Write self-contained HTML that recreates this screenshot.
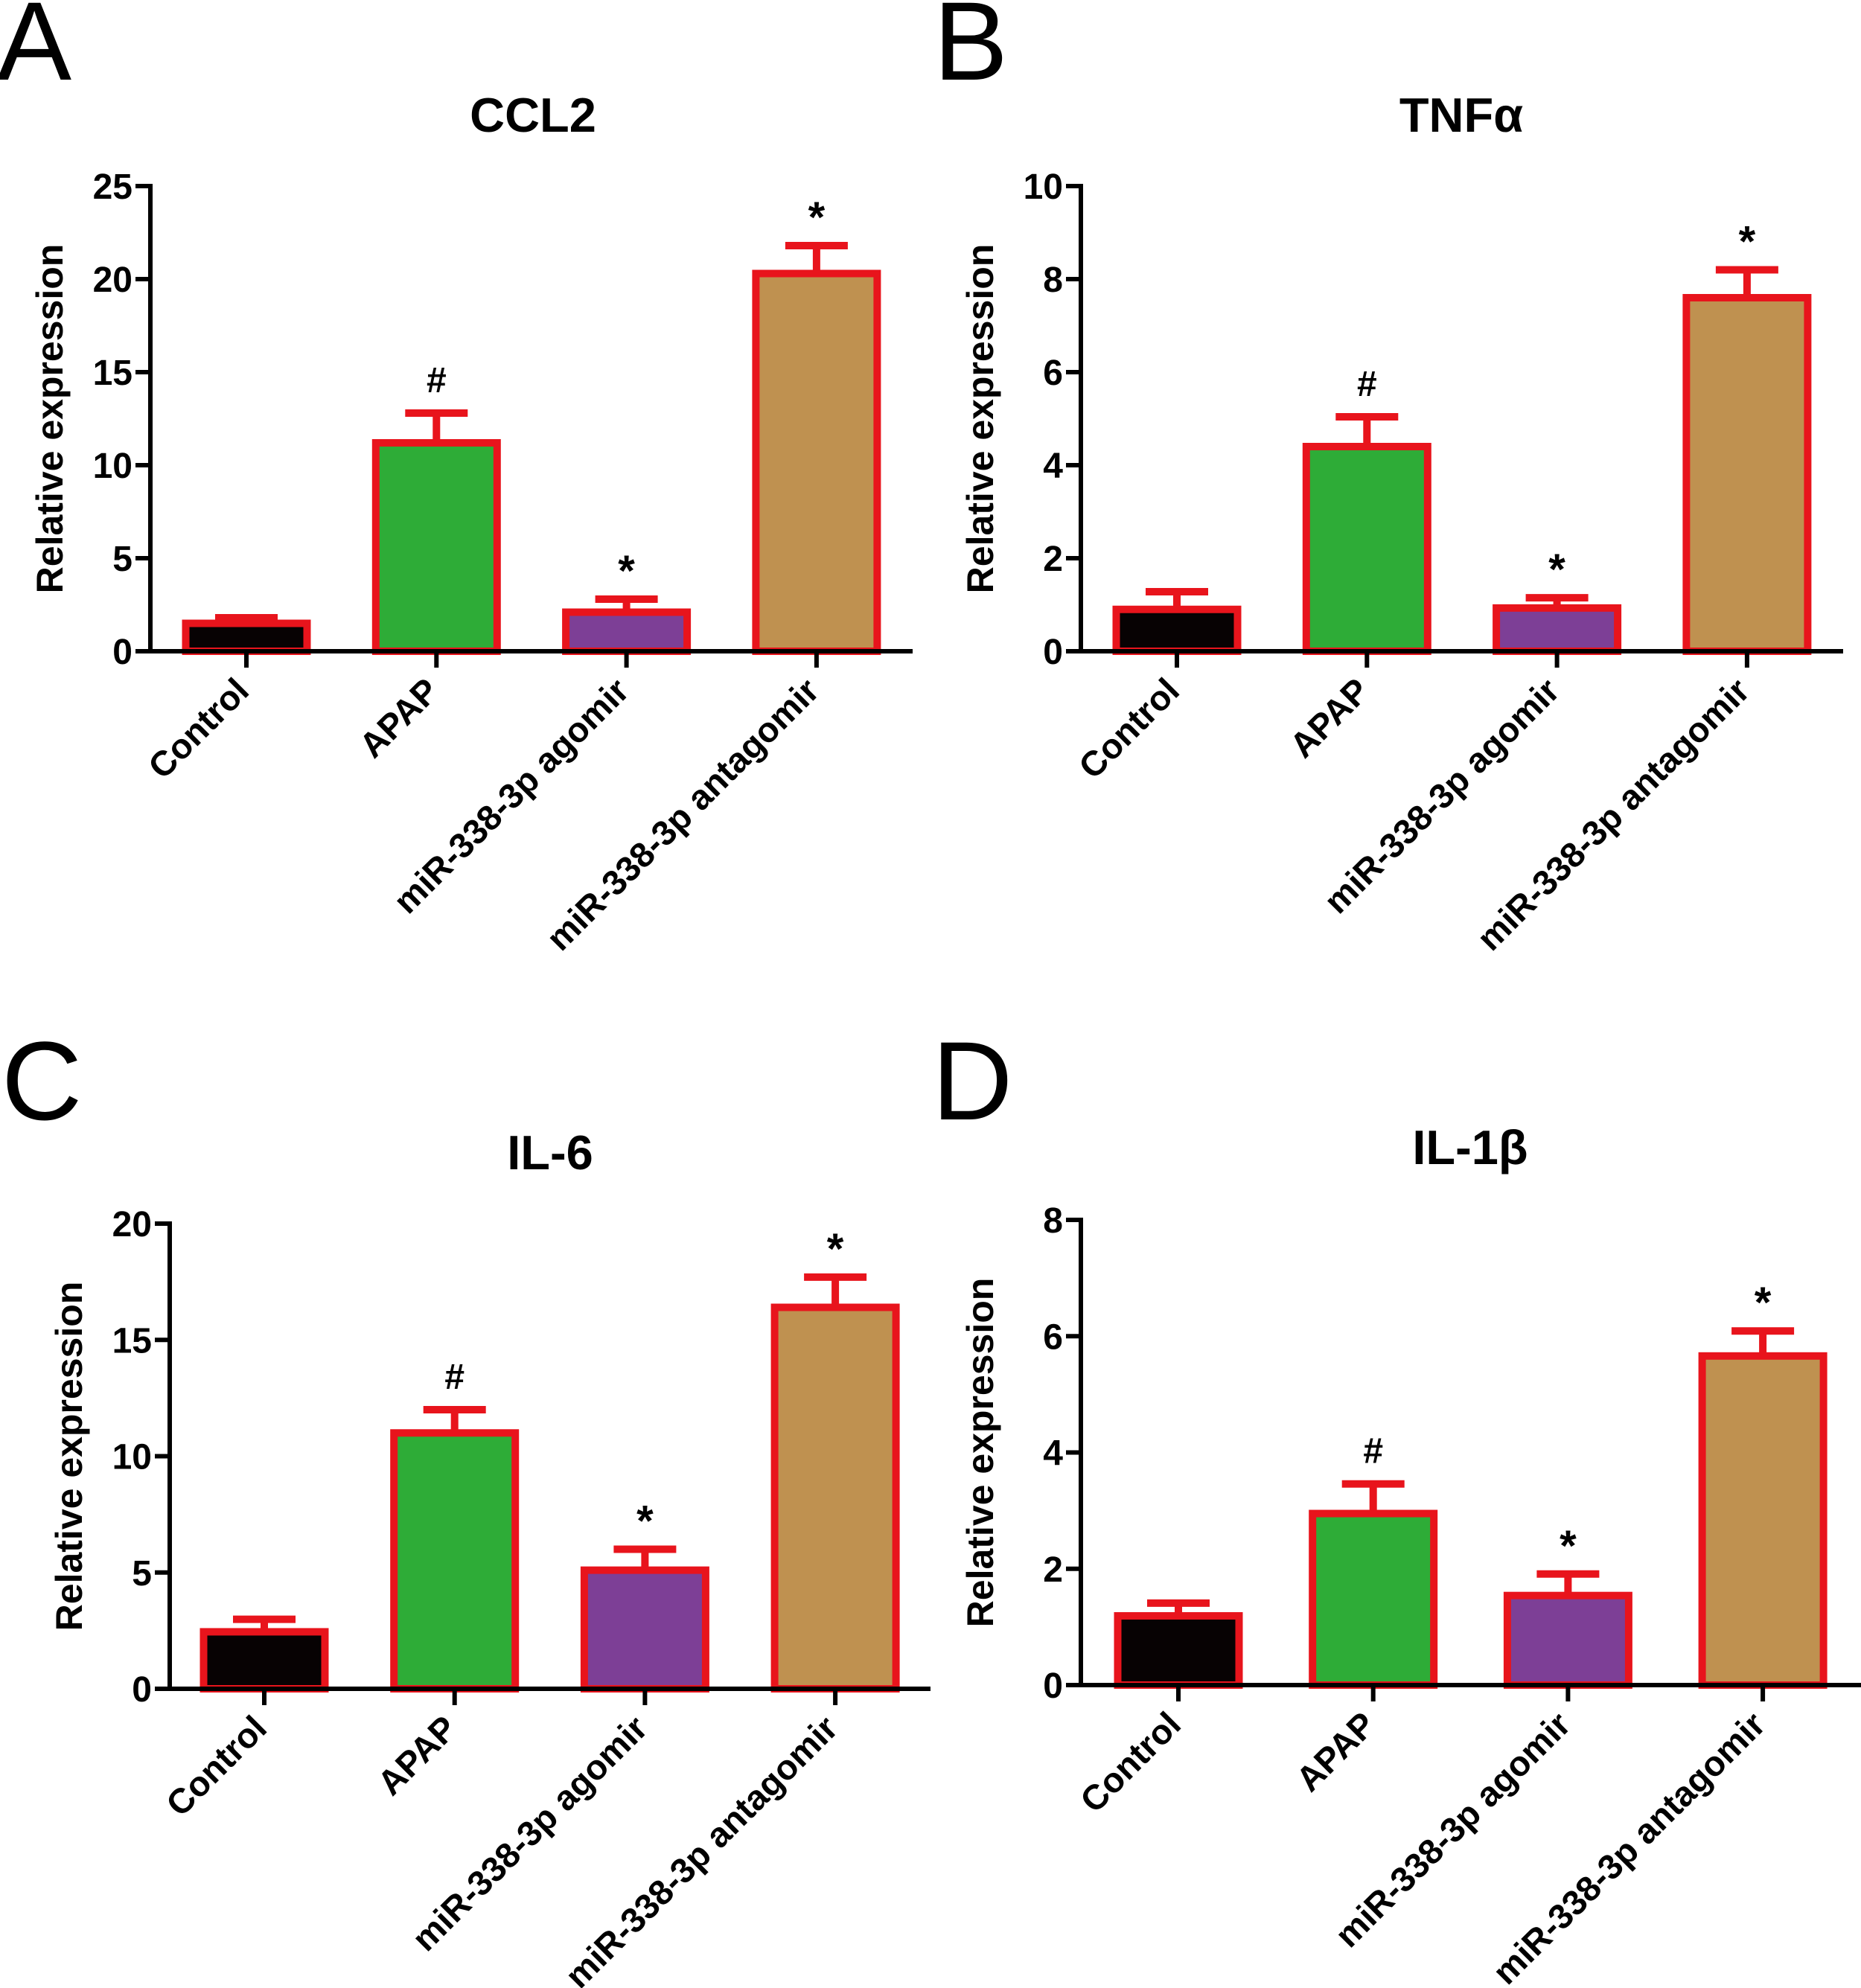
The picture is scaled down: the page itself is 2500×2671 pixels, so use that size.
<!DOCTYPE html>
<html><head><meta charset="utf-8"><style>
html,body{margin:0;padding:0;background:#fff;}
svg{display:block;font-family:"Liberation Sans",Arial,sans-serif;}
</style></head><body>
<svg id="fig" width="2500" height="2671" viewBox="0 0 2500 2671" xmlns="http://www.w3.org/2000/svg"></svg>
<script>
const categories = ["Control","APAP","miR-338-3p agomir","miR-338-3p antagomir"];
const ccl2Values = [1.5, 11.2, 2.1, 20.3];
const ccl2Caps   = [1.8, 12.8, 2.8, 21.8];
const tnfValues  = [0.9, 4.4, 0.93, 7.6];
const tnfCaps    = [1.28, 5.04, 1.15, 8.2];
const il6Values  = [2.45, 11.0, 5.1, 16.4];
const il6Caps    = [2.99, 12.0, 6.0, 17.7];
const il1bValues = [1.19, 2.95, 1.54, 5.66];
const il1bCaps   = [1.41, 3.46, 1.91, 6.09];
const ccl2Ticks = [0,5,10,15,20,25];
const tnfTicks  = [0,2,4,6,8,10];
const il6Ticks  = [0,5,10,15,20];
const il1bTicks = [0,2,4,6,8];
const marks = ["","#","*","*"];
const fills = ["#070203","#2eac37","#7d3f96","#bf9150"];

const NS="http://www.w3.org/2000/svg";
const svg=document.getElementById('fig');
function mk(tag,attrs,parent,text){const e=document.createElementNS(NS,tag);for(const k in attrs)e.setAttribute(k,attrs[k]);if(text!==undefined)e.textContent=text;(parent||svg).appendChild(e);return e;}

const panels=[
 {id:"a",letter:"A",title:"CCL2",vals:ccl2Values,caps:ccl2Caps,ticks:ccl2Ticks,ax:202,top:250,zero:875,end:1226,x0:331,dx:255.3,lx:-4,ly:107,tx:716,ty:177},
 {id:"b",letter:"B",title:"TNFα",vals:tnfValues,caps:tnfCaps,ticks:tnfTicks,ax:1452,top:250,zero:875,end:2476,x0:1581,dx:255.3,lx:1254,ly:107,tx:1963,ty:177},
 {id:"c",letter:"C",title:"IL-6",vals:il6Values,caps:il6Caps,ticks:il6Ticks,ax:228,top:1644,zero:2269,end:1250,x0:355,dx:255.7,lx:2,ly:1504,tx:739,ty:1571},
 {id:"d",letter:"D",title:"IL-1β",vals:il1bValues,caps:il1bCaps,ticks:il1bTicks,ax:1452,top:1639,zero:2264,end:2500,x0:1583,dx:261.7,lx:1252,ly:1504,tx:1975,ty:1564}
];

panels.forEach(p=>{
  const g=mk('g',{});
  
  
  const maxT=p.ticks[p.ticks.length-1];
  const y=v=>p.zero-(v/maxT)*(p.zero-p.top);
  const x=i=>p.x0+i*p.dx;
  const L=mk('text',{x:p.lx,y:p.ly,'font-size':150,fill:'#000'},g,p.letter);
  
  
  const T=mk('text',{x:p.tx,y:p.ty,'font-size':65,'font-weight':'bold','text-anchor':'middle'},g,p.title);
  
  
  p.vals.forEach((v,i)=>{
    const cx=x(i), w=163, cw=84;
    const cap=p.caps[i];
    const eb=mk('path',{d:`M${cx} ${y(v)} V${y(cap)} M${cx-cw/2} ${y(cap)} H${cx+cw/2}`,stroke:'#e8141c','stroke-width':10,fill:'none'},g);
    
    
    const r=mk('rect',{x:cx-w/2,y:y(v),width:w,height:p.zero-y(v),fill:fills[i],stroke:'#e8141c','stroke-width':10},g);
    
    
    if(marks[i]){
      const m=mk('text',{x:cx,y:y(cap)-(marks[i]=='#'?28:18),'font-size':marks[i]=='#'?48:58,'font-weight':'bold','text-anchor':'middle'},g,marks[i]);
      
      
    }
    const tk=mk('line',{x1:cx,y1:p.zero,x2:cx,y2:p.zero+22,stroke:'#000','stroke-width':6},g);
    
    
    const ax=cx+6, ay=p.zero+56;
    const lb=mk('text',{x:ax,y:ay,'font-size':47,'font-weight':'bold','text-anchor':'end',transform:`rotate(-45 ${ax} ${ay})`},g,categories[i]);
    
    
  });
  const ya=mk('line',{x1:p.ax,y1:p.top-3,x2:p.ax,y2:p.zero+3,stroke:'#000','stroke-width':6},g);
  
  
  const xa=mk('line',{x1:p.ax-20,y1:p.zero,x2:p.end,y2:p.zero,stroke:'#000','stroke-width':6},g);
  
  
  p.ticks.forEach(t=>{
    const tl=mk('line',{x1:p.ax-20,y1:y(t),x2:p.ax,y2:y(t),stroke:'#000','stroke-width':6},g);
    
    
    const tt=mk('text',{x:p.ax-24,y:y(t)+17,'font-size':48,'font-weight':'bold','text-anchor':'end'},g,String(t));
    
    
  });
  const yx=p.ax-118, yy=(p.top+p.zero)/2;
  const yt=mk('text',{x:yx,y:yy,'font-size':50,'font-weight':'bold','text-anchor':'middle',transform:`rotate(-90 ${yx} ${yy})`},g,'Relative expression');
  
  
});
</script>
</body></html>
